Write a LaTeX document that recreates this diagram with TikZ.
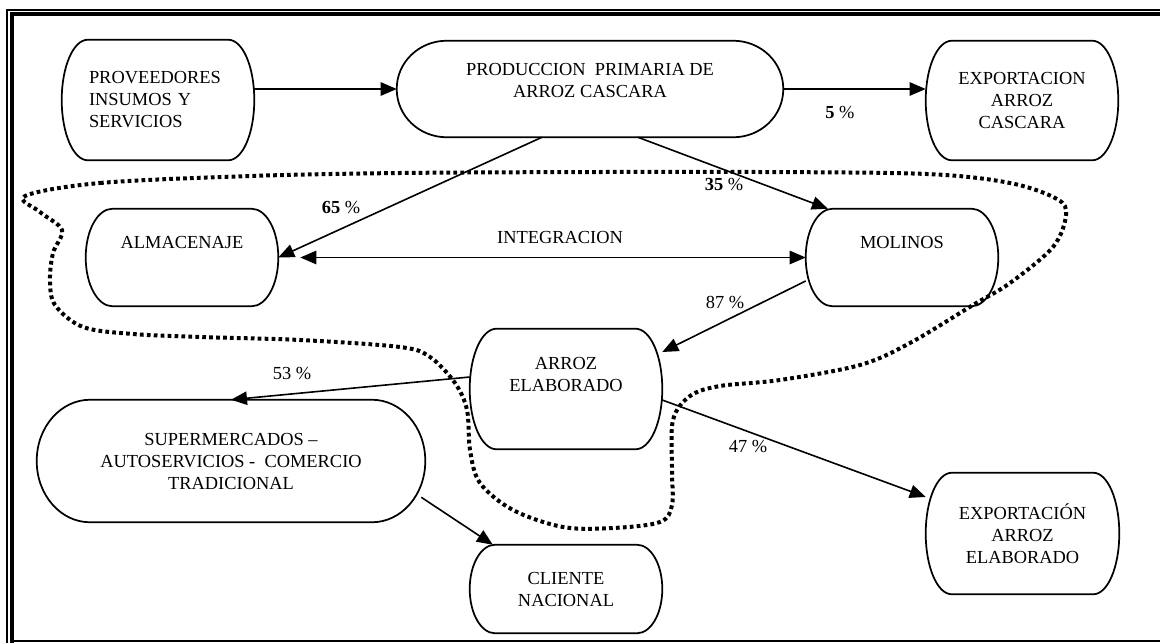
\documentclass[tikz,border=0pt]{standalone}
\usepackage{fontspec}
\setmainfont{Liberation Serif}
\usetikzlibrary{arrows.meta,calc}
\newcommand\fs{\fontsize{13.8pt}{16.5pt}\selectfont}
\newcommand\termbox[3]{%
  \draw[boxline] let \p1=(#1.south west),\p2=(#1.north east) in
    (\x1+#2,\y1) -- (\x2-#2,\y1)
    arc[start angle=-90,end angle=0,x radius=#2,y radius=#3]
    -- (\x2,\y2-#3)
    arc[start angle=0,end angle=90,x radius=#2,y radius=#3]
    -- (\x1+#2,\y2)
    arc[start angle=90,end angle=180,x radius=#2,y radius=#3]
    -- (\x1,\y1+#3)
    arc[start angle=180,end angle=270,x radius=#2,y radius=#3] -- cycle;}
\begin{document}
\begin{tikzpicture}[x=0.75pt,y=-0.75pt,
  box/.style={draw=none,inner sep=0pt,align=center,font=\fs},
  boxone/.style={draw=none,inner sep=0pt,font=\fs},
  boxline/.style={line width=1.3pt},
  arr/.style={line width=1.2pt,-{Triangle[length=12pt,width=10pt]}},
  darr/.style={line width=1.2pt,{Triangle[length=12pt,width=10pt]}-{Triangle[length=12pt,width=10pt]}},
  pct/.style={inner sep=0pt,font=\fs},
  boundary/.style={line width=3pt,dash pattern=on 2.8pt off 2.4pt}]
\useasboundingbox (0,0) rectangle (1160,643);
% frame
\draw[line width=0.9pt] (7,643) -- (7,10) -- (1160,10);
\draw[line width=3pt] (12,643) -- (12,14) -- (1160,14);
\draw[line width=1.2pt] (12,641) -- (1160,641);
% dotted boundary
\draw[boundary] plot[smooth cycle,tension=0.55] coordinates {
 (25,196) (100,183) (250,176) (400,173) (600,172) (760,172) (927,174)
 (1010,183) (1057,199) (1066,215) (1053,247) (1010,283) (973,305)
 (910,343) (860,365) (780,380) (720,386) (690,396) (673,420) (672,470)
 (672,505) (660,522) (613,528) (563,527) (513,510) (480,483) (470,450)
 (467,410) (455,383) (430,357) (400,347) (300,340) (200,337) (133,334)
 (83,327) (55,305) (50,280) (53,253) (62,230) (40,212)};
% nodes
\node[box,align=left,text width=103.5pt,inner xsep=20.25pt,minimum height=90pt] (prov) at (158,100) {PROVEEDORES\\INSUMOS Y\\SERVICIOS};
\node[box,minimum width=289.5pt,text height=36pt,text depth=36pt] (prod) at (590,89) {\raisebox{3pt}{\parbox{200pt}{\centering PRODUCCION\ \ PRIMARIA DE\\ARROZ CASCARA}}};
\node[box,minimum width=144pt,minimum height=89.25pt] (expc) at (1022,100.5) {EXPORTACION\\ARROZ\\CASCARA};
\node[boxone,minimum width=144pt,text height=29.25pt,text depth=43.5pt] (alm) at (182,257.5) {ALMACENAJE};
\node[boxone,minimum width=144pt,text height=29.25pt,text depth=43.5pt] (mol) at (902,257.5) {MOLINOS};
\node[box,minimum width=144pt,minimum height=90pt] (arroz) at (566,389) {ARROZ\\ELABORADO\\\strut};
\node[box,minimum width=291pt,minimum height=91.5pt] (sup) at (231,461) {SUPERMERCADOS –\\AUTOSERVICIOS -\ \ COMERCIO\\TRADICIONAL};
\node[box,minimum width=144pt,minimum height=66pt] (cli) at (566,589) {CLIENTE\\NACIONAL};
\node[box,minimum width=144.75pt,minimum height=90.75pt] (expe) at (1022.5,533.5) {EXPORTACIÓN\\ARROZ\\ELABORADO};
% outlines
\termbox{prov}{19.5pt}{45pt}
\termbox{prod}{37.5pt}{36pt}
\termbox{expc}{19.5pt}{44.625pt}
\termbox{alm}{20pt}{36.375pt}
\termbox{mol}{20pt}{36.375pt}
\termbox{arroz}{20pt}{45pt}
\termbox{sup}{40pt}{45.75pt}
\termbox{cli}{19pt}{33pt}
\termbox{expe}{19.5pt}{45.375pt}
% connectors
\draw[arr] (prov.east |- prod.west) -- (prod.west);
\draw[arr] (prod.east) -- (prod.east -| expc.west);
\draw[arr] ($(prod.south west)!0.3756!(prod.south east)$) -- (alm.east);
\draw[arr] ($(prod.south west)!0.624!(prod.south east)$) -- ($(mol.north west)!0.115!(mol.north east)$);
\draw[darr] ([xshift=16.5pt]alm.east) -- (mol.west);
\draw[arr] ([yshift=-17.6pt]mol.west) -- ([yshift=27.75pt]arroz.east);
\draw[arr] ([yshift=9pt]arroz.west) -- (sup.north);
\draw[arr] ([yshift=-8.25pt]arroz.east) -- ([yshift=27.4pt]expe.west);
\draw[arr] ($(sup.south east)+(-4,-25)$) -- ($(cli.north west)!0.12!(cli.north east)$);
% labels
\node[pct] (l5) at (840,112) {\textbf{5} \%};
\node[pct] (l65) at (341,207) {\textbf{65} \%};
\node[pct] (l35) at (724,184) {\textbf{35} \%};
\node[pct] (lint) at (560,237) {INTEGRACION};
\node[pct] (l87) at (725,302) {87 \%};
\node[pct] (l53) at (292,373) {53 \%};
\node[pct] (l47) at (748,446) {47 \%};
\end{tikzpicture}
\end{document}
